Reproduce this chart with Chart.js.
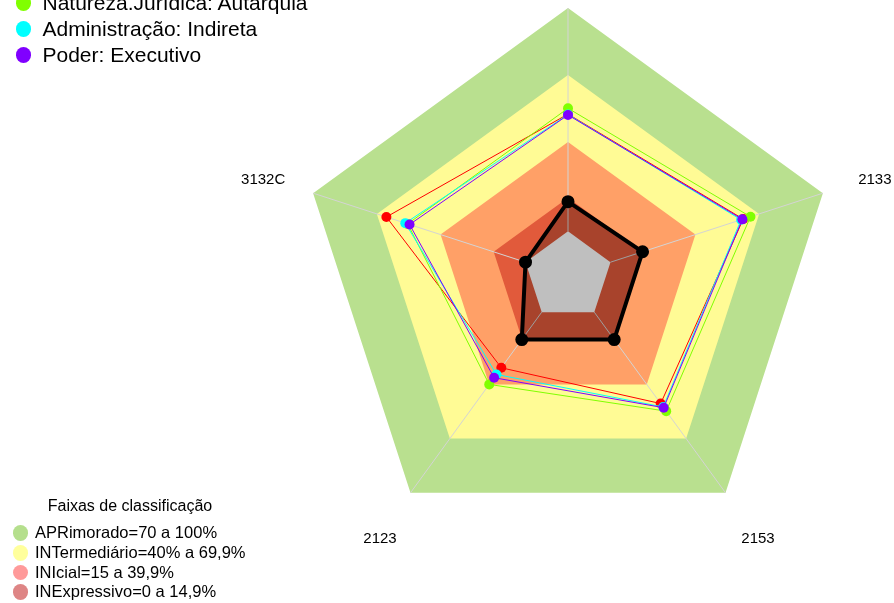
<!DOCTYPE html>
<html>
<head>
<meta charset="utf-8">
<script src="https://cdn.jsdelivr.net/npm/chart.js@4.4.1/dist/chart.umd.min.js"></script>
<style>
  body { margin: 0; width: 894px; height: 603px; overflow: hidden; background: #fff; position: relative;
         font-family: "Liberation Sans", Arial, sans-serif; color: #000; }
  #chart { position: absolute; left: 0; top: 0; }
  .row { position: absolute; left: 0; white-space: nowrap; }
  .dot { position: absolute; border-radius: 50%; }
  .txt { position: absolute; }
  #faixas-title { position: absolute; left: 0; width: 260px; text-align: center; font-size: 16px; }
</style>
</head>
<body>
<canvas id="chart" width="894" height="603"></canvas>
<div id="legend-top"></div>
<div id="legend-bottom"><div id="faixas-title">Faixas de classificação</div></div>
<script>
// --- DATA ---
// axis order: top (label cut off in the reference), then clockwise
const categories = ['', '2133', '2153', '2123', '3132C'];

const unidade   = [13.3, 15.1, 15.2, 15.2, 0];    // black, thick
const serieRed  = [52.5, 62.5, 50.6, 30.8, 65.5];
const natureza  = [55.1, 65.9, 54.8, 40.0, 55.5];
const adminInd  = [52.3, 61.5, 52.5, 34.5, 56.6];
const poderExec = [52.1, 62.1, 52.9, 36.3, 54.6];

// classification bands (upper limit of each band)
const bandLimits = [100, 70, 40, 15];
const bandColors = ['#b9e08f', '#fffb95', '#ffa067', '#e15a3b'];

const seriesLegend = ['Natureza.Jurídica: Autarquia', 'Administração: Indireta', 'Poder: Executivo'];
const seriesLegendColors = ['#80ff00', '#00ffff', '#8000ff'];

const faixasLabels = ['APRimorado=70 a 100%', 'INTermediário=40% a 69,9%', 'INIcial=15 a 39,9%', 'INExpressivo=0 a 14,9%'];
const faixasColors = ['#b5df8d', '#ffff9c', '#ff9a9a', '#de8585'];

// --- DATASETS (listed bottom -> top) ---
const flat = v => categories.map(() => v);
const datasets = [];

bandLimits.forEach((lim, i) => {
  datasets.push({ data: flat(lim), backgroundColor: bandColors[i], borderWidth: 0, pointRadius: 0, fill: 'start' });
});
// white hole in the middle
datasets.push({ data: flat(0), backgroundColor: '#ffffff', borderWidth: 0, pointRadius: 0, fill: 'start' });
const centerIndex = datasets.length - 1;

datasets.push({
  label: 'Unidade', data: unidade, fill: 'start', backgroundColor: 'rgba(0,0,0,0.25)',
  borderColor: '#000', borderWidth: 4, pointRadius: 4.5, pointBackgroundColor: '#000', pointBorderColor: '#000'
});

const thin = (label, data, color) => ({
  label, data, fill: false, borderColor: color, borderWidth: 1,
  pointRadius: 5, pointBackgroundColor: color, pointBorderColor: color, pointBorderWidth: 0
});
datasets.push(thin('Série vermelha', serieRed, '#ff0000'));
datasets.push(thin(seriesLegend[0], natureza, '#80ff00'));
datasets.push(thin(seriesLegend[1], adminInd, '#00ffff'));
datasets.push(thin(seriesLegend[2], poderExec, '#8000ff'));

// higher order is drawn first
datasets.forEach((d, i) => { d.order = datasets.length - i; });

// axis lines over the bands + labels out at 1.2 radius
const radarExtras = {
  id: 'radarExtras',
  afterDatasetDraw(chart, args) {
    if (args.index !== centerIndex) return;
    const r = chart.scales.r, ctx = chart.ctx;
    ctx.save();
    ctx.strokeStyle = '#d4d4d4';
    ctx.lineWidth = 1;
    categories.forEach((c, i) => {
      const a = r.getPointPositionForValue(i, 0);
      const b = r.getPointPositionForValue(i, 100);
      ctx.beginPath();
      ctx.moveTo(a.x, a.y);
      ctx.lineTo(b.x, b.y);
      ctx.stroke();
    });
    ctx.restore();
  },
  afterDraw(chart) {
    const r = chart.scales.r, ctx = chart.ctx;
    ctx.save();
    ctx.font = '15px "Liberation Sans", Arial, sans-serif';
    ctx.fillStyle = '#000';
    ctx.textAlign = 'center';
    ctx.textBaseline = 'middle';
    categories.forEach((c, i) => {
      const p = r.getPointPosition(i, r.drawingArea * 1.2);
      ctx.fillText(c, p.x + 1, p.y + 3);
    });
    ctx.restore();
  }
};

new Chart(document.getElementById('chart'), {
  type: 'radar',
  data: { labels: categories, datasets },
  options: {
    responsive: false,
    animation: false,
    devicePixelRatio: 1,
    layout: { padding: { left: 300, right: 57, top: 8, bottom: 58 } },
    elements: { line: { tension: 0 } },
    scales: {
      r: {
        min: -20, max: 100,
        ticks: { display: false },
        grid: { display: false },
        angleLines: { display: false },
        pointLabels: { display: false }
      }
    },
    plugins: { legend: { display: false }, tooltip: { enabled: false } }
  },
  plugins: [radarExtras]
});

// --- HTML LEGENDS ---
function addRow(parent, y, dotX, dotD, textX, fontSize, color, text) {
  const row = document.createElement('div');
  row.className = 'row';
  row.style.top = '0px';
  row.innerHTML =
    `<span class="dot" style="left:${dotX - dotD / 2}px;top:${y - dotD / 2}px;width:${dotD}px;height:${dotD}px;background:${color}"></span>` +
    `<span class="txt" style="left:${textX}px;top:${y - fontSize * 0.6}px;font-size:${fontSize}px;line-height:${fontSize * 1.2}px">${text}</span>`;
  parent.appendChild(row);
}

const topLeg = document.getElementById('legend-top');
seriesLegend.forEach((t, i) => addRow(topLeg, 3 + i * 26, 23.5, 15.5, 42.5, 21, seriesLegendColors[i], t));

const bottomLeg = document.getElementById('legend-bottom');
document.getElementById('faixas-title').style.top = (507 - 9.6) + 'px';
const faixasY = [533, 553, 572.5, 592];
faixasLabels.forEach((t, i) => addRow(bottomLeg, faixasY[i], 20.5, 15.5, 35, 16.5, faixasColors[i], t));
</script>
</body>
</html>
